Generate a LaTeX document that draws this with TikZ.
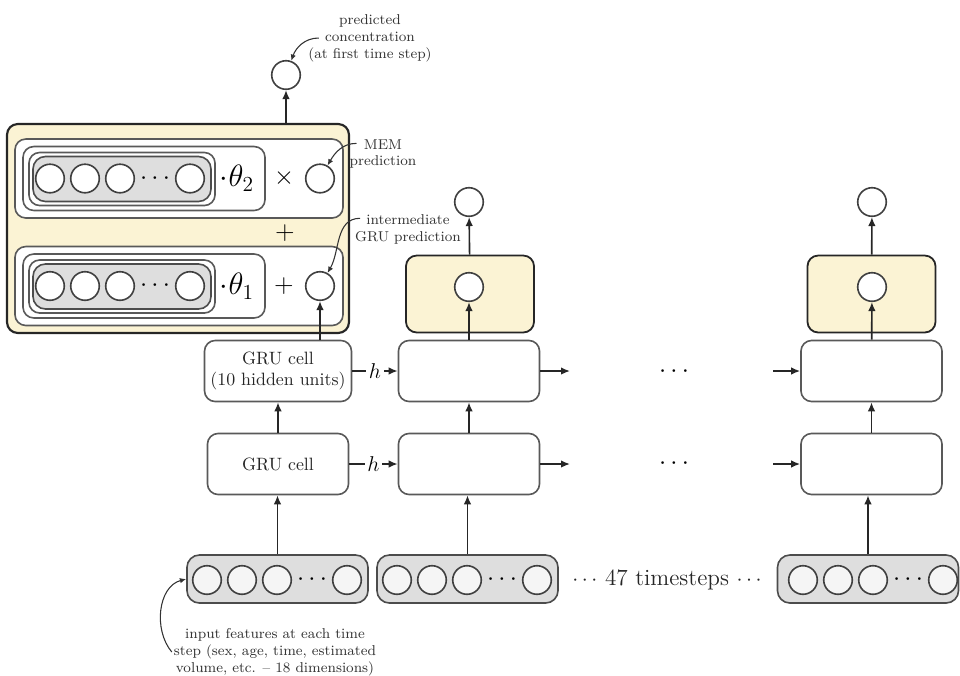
\documentclass[tikz,border=0pt]{standalone}
\usepackage{tikz}
\usetikzlibrary{arrows.meta,shapes,positioning}

\definecolor{memyellow}{RGB}{251,243,212}
\definecolor{rowgray}{RGB}{222,222,222}

\tikzstyle{neuron}=[circle,draw=black!75,fill=white,line width=0.9pt,
                    minimum size=16pt,inner sep=0pt]
\tikzstyle{rowbox}=[rectangle,rounded corners=7pt,draw=black!70,fill=rowgray,
                    line width=0.9pt,minimum width=101.4pt,minimum height=26.9pt]
\tikzstyle{cell}=[rectangle,rounded corners=6pt,draw=black!65,fill=white,
                  line width=0.9pt,minimum width=79pt,minimum height=34.2pt,
                  align=center,text=black!85]
\tikzstyle{outbox}=[rectangle,rounded corners=6pt,draw=black!85,fill=memyellow,
                    line width=1pt,minimum width=71.7pt,minimum height=43.1pt]
\tikzstyle{arrow}=[-{Latex[length=5pt,width=4.2pt]},line width=0.9pt,draw=black!85]
\tikzstyle{pointer}=[-{Latex[length=3.5pt,width=3pt]},line width=0.6pt,draw=black!80]
\tikzstyle{note}=[font=\footnotesize,align=center,text=black!80,inner sep=1pt]

\begin{document}
\begin{tikzpicture}[x=0.56pt,y=-0.56pt,node distance=19.6pt]
	\useasboundingbox (0,0) rectangle (960,675);

	% memory block at the first time step
	\node[outbox,line width=1.2pt,minimum width=191.5pt,minimum height=117pt] (mem) at (178,228.5) {};
	\node[cell,minimum width=183.7pt,minimum height=44.2pt] (memtop) at (179,178.5) {};
	\node[cell,minimum width=183.7pt,minimum height=44.2pt] (membot) at (179,286) {};

	% MEM row
	\node[cell,minimum width=135.5pt,minimum height=35.8pt] (grp2) at (144,178.5) {};
	\node[cell,minimum width=104.2pt,minimum height=29.7pt] (ring2) at (122,179) {};
	\node[rowbox,minimum width=99.7pt,minimum height=25.2pt] (row2) at (122,179) {};
	\node[neuron] (p1) at (50,178.5) {};
	\node[neuron,right of=p1] (p2) {};
	\node[neuron,right of=p2] (p3) {};
	\node[right of=p3,font=\Large] (p4) {$\cdots$};
	\node[neuron,right of=p4] (p5) {};
	\node[font=\LARGE] (th2) at (237,178.5) {$\cdot\theta_2$};
	\node[font=\Large] (times) at (284,178.5) {$\times$};
	\node[neuron] (mempred) at (320,178.5) {};

	\node[font=\Large] (plus) at (285,233) {$+$};

	% GRU row
	\node[cell,minimum width=135.5pt,minimum height=35.8pt] (grp1) at (144,286) {};
	\node[cell,minimum width=104.2pt,minimum height=29.7pt] (ring1) at (122,286.5) {};
	\node[rowbox,minimum width=99.7pt,minimum height=25.2pt] (row1) at (122,286.5) {};
	\node[neuron] (q1) at (50,286) {};
	\node[neuron,right of=q1] (q2) {};
	\node[neuron,right of=q2] (q3) {};
	\node[right of=q3,font=\Large] (q4) {$\cdots$};
	\node[neuron,right of=q4] (q5) {};
	\node[font=\LARGE] (th1) at (237,286) {$\cdot\theta_1$};
	\node[font=\Large] (plus1) at (284,286) {$+$};
	\node[neuron] (grupred) at (320,286) {};

	\node[neuron] (conc) at (286,75) {};

	% output blocks
	\node[outbox] (out2) at (470,294) {};
	\node[neuron] (o2) at (469,287) {};
	\node[neuron] (y2) at (469,202) {};
	\node[outbox] (out3) at (871.5,294) {};
	\node[neuron] (o3) at (872,287) {};
	\node[neuron] (y3) at (872,202) {};

	% GRU cells
	\node[cell] (ga1) at (278,464) {GRU cell};
	\node[cell] (gb1) at (278,371) {GRU cell\\(10 hidden units)};
	\node[cell] (ga2) at (469,464) {};
	\node[cell] (gb2) at (469,371) {};
	\node[cell] (ga3) at (871.5,464) {};
	\node[cell] (gb3) at (871.5,371) {};

	\node[font=\Large] (dotsa) at (674,464) {$\cdots$};
	\node[font=\Large] (dotsb) at (674,372) {$\cdots$};
	\coordinate (ea2) at (570,464);
	\coordinate (eb2) at (570,371);
	\coordinate (sa3) at (773,464);
	\coordinate (sb3) at (773,371);

	% inputs
	\node[rowbox] (in1) at (277.5,579) {};
	\node[neuron,fill=black!4] (a1) at (207,580) {};
	\node[neuron,fill=black!4,right of=a1] (a2) {};
	\node[neuron,fill=black!4,right of=a2] (a3) {};
	\node[right of=a3,font=\Large] (a4) {$\cdots$};
	\node[neuron,fill=black!4,right of=a4] (a5) {};

	\node[rowbox] (in2) at (467.5,579) {};
	\node[neuron,fill=black!4] (b1) at (397,580) {};
	\node[neuron,fill=black!4,right of=b1] (b2) {};
	\node[neuron,fill=black!4,right of=b2] (b3) {};
	\node[right of=b3,font=\Large] (b4) {$\cdots$};
	\node[neuron,fill=black!4,right of=b4] (b5) {};

	\node[font=\fontsize{13}{15}\selectfont,text=black!85] (steps) at (667,580) {$\cdots$ 47 timesteps $\cdots$};

	\node[rowbox] (in3) at (868,579) {};
	\node[neuron,fill=black!4] (c1) at (803,580) {};
	\node[neuron,fill=black!4,right of=c1] (c2) {};
	\node[neuron,fill=black!4,right of=c2] (c3) {};
	\node[right of=c3,font=\Large] (c4) {$\cdots$};
	\node[neuron,fill=black!4,right of=c4] (c5) {};

	% notes
	\node[note] (conclbl) at (370,38) {predicted\\concentration\\(at first time step)};
	\node[note] (memlbl) at (383,154) {MEM\\prediction};
	\node[note] (grulbl) at (408,229) {intermediate\\GRU prediction};
	\node[note] (inlbl) at (275,652) {input features at each time\\step (sex, age, time, estimated\\volume, etc. -- 18 dimensions)};

	% connections
	\draw[arrow] (mem.north -| conc) -- (conc);
	\draw[arrow] (in1.north) -- (in1.north |- ga1.south);
	\draw[arrow] (in2.north) -- (in2.north |- ga2.south);
	\draw[arrow] (in3.north) -- (in3.north |- ga3.south);
	\draw[arrow] (ga1) -- (gb1);
	\draw[arrow] (ga2) -- (gb2);
	\draw[arrow] (ga3) -- (gb3);
	\draw[arrow] (gb1.north -| grupred) -- (grupred);
	\draw[arrow] (gb2) -- (o2);
	\draw[arrow] (gb3) -- (o3);
	\draw[arrow] (out2) -- (y2);
	\draw[arrow] (out3) -- (y3);
	\draw[arrow] (ga1) -- node[fill=white,font=\large,inner sep=1.5pt] {$h$} (ga2);
	\draw[arrow] (gb1) -- node[fill=white,font=\large,inner sep=1.5pt] {$h$} (gb2);
	\draw[arrow] (ga2) -- (ea2);
	\draw[arrow] (gb2) -- (eb2);
	\draw[arrow] (sa3) -- (ga3);
	\draw[arrow] (sb3) -- (gb3);

	\draw[pointer] ([xshift=7pt]conclbl.west) to[out=180,in=70] (conc);
	\draw[pointer] ([xshift=5pt,yshift=-3.5pt]memlbl.north west) to[out=180,in=60] (mempred);
	\draw[pointer] ([xshift=4pt,yshift=-3.5pt]grulbl.north west) to[out=180,in=60] (grupred);
	\draw[pointer] (inlbl.west) to[out=130,in=195] (in1.west);
\end{tikzpicture}
\end{document}
